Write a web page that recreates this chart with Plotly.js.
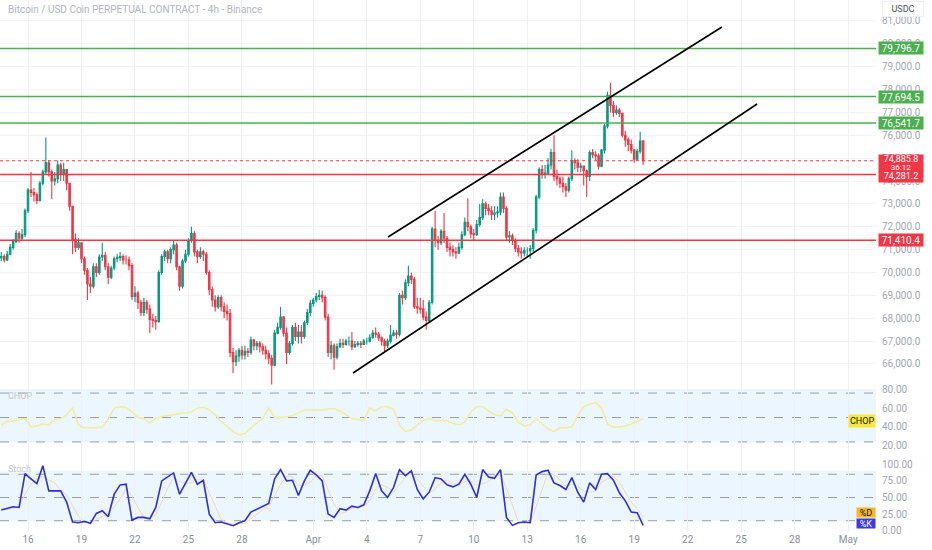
<!DOCTYPE html>
<html><head><meta charset="utf-8">
<script src="https://cdn.plot.ly/plotly-3.0.1.min.js"></script>
<style>html,body{margin:0;padding:0;background:#fff}#chart{width:932px;height:550px}</style>
</head><body><div id="chart"></div>
<script>
// ---- data (4h candles, first candle 2025-03-14 12:00 UTC) ----
const candleStartUTC = [2025, 2, 14, 12];
const firstOpen = 70650;
const closes = [
 70700,70550,70800,
 71100,71350,71700,71500,71650,72700,
 73600,73500,73400,73150,73900,74400,
 74800,74400,74000,74100,74700,74300,
 74500,73900,72900,71450,71100,71300,
 70600,70100,69500,69400,70250,70000,
 70680,70750,70250,69800,70200,70600,
 70650,70700,70550,70550,70300,68950,
 69100,68700,68250,68700,68400,67950,
 67900,67850,70000,70700,70900,70600,
 71000,71200,70250,69400,70500,70800,
 71400,71700,70900,70700,70900,70800,
 70000,69250,68800,68500,68900,68500,
 68300,68200,66500,66100,66350,66600,
 66400,66550,66500,67050,66800,66900,
 66750,66600,66450,66250,65950,67350,
 67600,68050,67350,66500,66900,67600,
 67200,67400,67200,67800,68250,68650,
 68800,68950,69000,68900,68050,66500,
 66800,66300,66750,66900,66850,67000,
 67000,66750,66850,66900,66850,67000,
 67000,67150,67350,67300,67150,67000,
 66800,67000,67250,67350,67300,69000,
 68900,69550,69850,69700,68500,68450,
 68400,68050,67900,68700,71900,71400,
 71300,71800,71500,71100,71000,70900,
 70850,71100,71650,72200,72000,71700,
 71650,72100,72400,73000,72800,72700,
 72550,72600,72650,73300,72800,71550,
 71600,71400,71050,70900,70850,70950,
 70950,71050,71850,73300,74500,74300,
 74350,74700,75250,74200,74100,73900,
 73750,73600,74100,74900,74800,74600,
 74650,74450,74200,75250,75150,75100,
 74650,75350,76400,77750,77300,77000,
 77100,76950,76000,75800,75600,75350,
 74950,75300,75750,74885.8
];
const highs = [
 70900,70800,70950,
 71250,71450,71850,71800,71900,72800,
 73700,74400,73700,73500,74000,74500,
 75900,74900,74500,74400,74900,74800,
 74800,74500,73900,72900,71700,71500,
 71300,70700,70200,69800,70400,70400,
 70800,71300,70900,70400,70300,70700,
 70800,70900,70800,70750,70700,70400,
 69400,69200,68800,68900,68800,68600,
 68200,68100,70100,70800,71000,71000,
 71100,71400,71300,70300,70600,71000,
 71500,72000,71800,71000,71100,71000,
 70900,70100,69400,69000,69000,69000,
 68700,68600,68400,66700,66600,66700,
 66800,66800,66700,67200,67100,67000,
 67000,66900,66800,66600,66400,67500,
 67800,68500,68100,67600,67000,67700,
 67800,67700,67700,67900,68400,68800,
 68900,69100,69250,69200,69000,68200,
 67000,66900,66900,67100,67100,67100,
 67200,67400,67000,67000,67000,67100,
 67150,67300,67500,67600,67400,67200,
 67100,67100,67700,67500,67500,69100,
 69200,69700,70300,70000,69800,68900,
 68900,68800,68300,68800,72000,72700,
 71600,71900,72600,71600,71300,71200,
 71100,71300,71800,72400,73250,72100,
 71900,72300,73000,73200,73100,73000,
 72900,72900,72900,73500,73500,72900,
 71800,71700,71500,71200,71100,71100,
 71100,71200,71950,73400,74600,74700,
 74700,75000,75400,76000,74500,74200,
 74200,73900,74200,75350,75000,74950,
 74800,74600,74500,75350,75400,75300,
 75200,75400,76500,77900,78300,77500,
 77300,77200,77000,76200,75900,75800,
 75400,75400,76150,75800
];
const lows = [
 70500,70450,70500,
 70750,71000,71300,71300,71400,71550,
 72600,73300,73100,73000,73100,73800,
 74300,74200,73200,73800,73900,74000,
 74000,73600,72700,70800,70900,71000,
 70400,69900,68800,69100,69300,69800,
 69900,70500,70100,69500,69700,70100,
 70450,70500,70350,70350,70100,68800,
 68700,68400,68100,68100,68200,67350,
 67600,67500,67800,69900,70500,70400,
 70400,70800,70100,69200,69300,70400,
 70700,71300,70700,70400,70600,70500,
 69900,69000,68500,68300,68400,68300,
 68000,67900,66300,65600,65900,66100,
 66200,66200,66300,66400,66600,66600,
 66500,66400,66200,66000,65100,65900,
 67300,67500,67200,66000,66400,66800,
 67000,66900,66900,67100,67700,68100,
 68500,68700,68800,68700,67900,66300,
 66200,65750,66200,66700,66700,66800,
 66800,66600,66700,66750,66700,66850,
 66850,66950,67100,67150,67000,66800,
 66550,66700,66900,67200,67100,67200,
 68600,68800,69400,69500,68400,68200,
 68200,67900,67500,67800,68600,71100,
 71000,71200,71300,70900,70700,70700,
 70600,70800,71000,71600,71800,71500,
 71400,71600,72000,72300,72500,72500,
 72300,72300,72400,72500,72600,71400,
 71300,71200,70900,70700,70600,70700,
 70700,70600,70900,71700,73200,74100,
 74100,74300,74500,74000,73800,73700,
 73500,73300,73500,74000,74500,74400,
 74400,73800,73300,74000,75000,74900,
 74500,74600,75200,76300,77000,76800,
 76900,76800,75900,75500,75300,75200,
 74800,74900,75200,74700
];
// indicators (8h samples from 2025-03-14 12:00)
const chopValues = [42,46,46,48,49,40,41,43,42,48, 49,53,60,42,39,39,39,40,48,60,
 61.5,61,56,50,49,44,49,51,52,53, 54,55,56,60,61,58,53,46,40,35,
 31.5,33,39,44,49,60,50,50,51,52, 55,58,58,58,58,59,59.5,57,53,49,
 48,47,60,57,61.5,61.5,59,42,35,37, 42,47,49,46.5,47,46.5,44,42,45,56,
 61.5,61.5,57,53,52,59,55,45,41,42, 49,43,38,35,39,39,40,52,61.5,64,
 66,60,43,40,40,41,43,46,49];
const stochK = [31,33,36,35,86,78,71,98,60,60, 60,43,13,12,14,11,26,30,21,55,
 69,70,16,20,20,18,35,75,81,87, 55,72,88,70,76,25,12,13,10,7.5,
 12,15,28,32,36,41,78,92,75,76, 53,75,91,84,75,25,20,33,31,37,
 35,39,60,86,60,50,65,92,83,90, 62,48,58,80,78,69,66,70,85,70,
 50,92,81,79,92,20,8,12,13,12, 84,89,91,72,68,62,80,58,43,72,
 62,85,86,76,57,45,28,27,8];
const stochD = [33,32,34,36,55,70,78,82,76,72, 60,54,38,22,13,12,17,22,26,35,
 48,64,52,35,19,19,24,43,64,81, 74,71,72,77,78,57,38,17,12,10,
 10,11,18,25,32,36,52,70,82,81, 68,68,73,83,83,61,40,26,28,34,
 34,37,45,62,69,65,58,69,80,88, 78,67,56,62,72,76,71,68,74,75,
 68,71,74,84,84,64,40,13,11,12, 36,62,88,84,77,67,70,67,60,58,
 59,73,78,82,73,59,43,33,21];
const xTickDates = ['2025-03-16','2025-03-19','2025-03-22','2025-03-25','2025-03-28','2025-04-01','2025-04-04','2025-04-07','2025-04-10','2025-04-13','2025-04-16','2025-04-19','2025-04-22','2025-04-25','2025-04-28','2025-05-01'];
const xTickText = ['16','19','22','25','28','Apr','4','7','10','13','16','19','22','25','28','May'];
const priceTicks = [66000,67000,68000,69000,70000,71000,72000,73000,74000,75000,76000,77000,78000,79000,80000,81000];
const greenLevels = [79796.7, 77694.5, 76541.7];
const redLevels = [74281.2, 71410.4];
const lastPrice = 74885.8;
const countdown = '36:12';
const upperChannelX = ['2025-04-05 04:36','2025-04-23 22:05'];
const upperChannelY = [71553, 80735];
const lowerChannelX = ['2025-04-03 05:31','2025-04-25 21:21'];
const lowerChannelY = [65606, 77368];
const chopBands = [24, 50, 76];
const stochBands = [15, 50, 85];
const titleText = 'Bitcoin / USD Coin PERPETUAL CONTRACT - 4h - Binance';

// ---- build ----
const H = 3600e3;
const base = Date.UTC(...candleStartUTC);
const fmt = ms => new Date(ms).toISOString().slice(0,16).replace('T',' ');
const times = closes.map((_, i) => fmt(base + i*4*H));
const opens = closes.map((_, i) => i === 0 ? firstOpen : closes[i-1]);
const hi = highs.map((h, i) => Math.max(h, opens[i], closes[i]));
const lo = lows.map((l, i) => Math.min(l, opens[i], closes[i]));
const t8 = chopValues.map((_, j) => fmt(base + j*8*H));

const GREEN = '#089981', RED = '#f23645', LVLG = '#4caf50';
const traces = [
  {type:'candlestick', x:times, open:opens, high:hi, low:lo, close:closes, xaxis:'x', yaxis:'y',
   increasing:{line:{color:GREEN,width:1.1}, fillcolor:GREEN},
   decreasing:{line:{color:RED,width:1.1}, fillcolor:RED},
   whiskerwidth:0, hoverinfo:'skip'},
  {type:'scatter', mode:'lines', x:t8, y:chopValues, xaxis:'x', yaxis:'y2', line:{color:'#f2ec9c', width:1.5}, hoverinfo:'skip'},
  {type:'scatter', mode:'lines', x:t8, y:stochD, xaxis:'x', yaxis:'y3', line:{color:'#eedcae', width:1}, hoverinfo:'skip'},
  {type:'scatter', mode:'lines', x:t8, y:stochK, xaxis:'x', yaxis:'y3', line:{color:'#2f2fd8', width:1.6}, hoverinfo:'skip'}
];

const shapes = [];
shapes.push({type:'rect', xref:'paper', x0:0, x1:1, yref:'y2', y0:chopBands[0], y1:80, fillcolor:'rgba(33,150,243,0.09)', line:{width:0}, layer:'below'});
shapes.push({type:'rect', xref:'paper', x0:0, x1:1, yref:'y3', y0:stochBands[0], y1:90, fillcolor:'rgba(33,150,243,0.09)', line:{width:0}, layer:'below'});
chopBands.forEach(v => shapes.push({type:'line', xref:'paper', x0:0, x1:1, yref:'y2', y0:v, y1:v, line:{color:'#9a9ca3', width:1, dash:'dash'}, layer:'below'}));
stochBands.forEach(v => shapes.push({type:'line', xref:'paper', x0:0, x1:1, yref:'y3', y0:v, y1:v, line:{color:'#9a9ca3', width:1, dash:'dash'}, layer:'below'}));
greenLevels.forEach(v => shapes.push({type:'line', xref:'paper', x0:0, x1:1, yref:'y', y0:v, y1:v, line:{color:LVLG, width:1.5}}));
redLevels.forEach(v => shapes.push({type:'line', xref:'paper', x0:0, x1:1, yref:'y', y0:v, y1:v, line:{color:RED, width:1.5}}));
shapes.push({type:'line', xref:'paper', x0:0, x1:1, yref:'y', y0:lastPrice, y1:lastPrice, line:{color:RED, width:1, dash:'dot'}});
shapes.push({type:'line', xref:'x', yref:'y', x0:upperChannelX[0], x1:upperChannelX[1], y0:upperChannelY[0], y1:upperChannelY[1], line:{color:'#000', width:1.6}});
shapes.push({type:'line', xref:'x', yref:'y', x0:lowerChannelX[0], x1:lowerChannelX[1], y0:lowerChannelY[0], y1:lowerChannelY[1], line:{color:'#000', width:1.6}});

const fmtP = v => v.toLocaleString('en-US',{minimumFractionDigits:1});
const lab = (text, y, bg, extra) => Object.assign({xref:'paper', x:1, xanchor:'left', xshift:2, yref:'y', y:y, yanchor:'middle',
  text:text, showarrow:false, bgcolor:bg, font:{color:'#fff', size:10}, width:44, height:12, borderpad:0}, extra||{});
const annotations = [];
annotations.push({xref:'paper', x:0, xanchor:'left', xshift:6, yref:'paper', y:1, yanchor:'top', yshift:-2, text:titleText, showarrow:false, font:{size:10, color:'#b2b5be'}});
annotations.push({xref:'paper', x:1, xanchor:'left', xshift:6, yref:'paper', y:1, yanchor:'top', yshift:-1, text:'USDC', showarrow:false, font:{size:9, color:'#50535e'}, bgcolor:'#fff', bordercolor:'#eef0f4', borderwidth:1, width:38, height:12});
greenLevels.forEach(v => annotations.push(lab(fmtP(v), v, LVLG)));
annotations.push(lab('', lastPrice, RED, {height:27, yanchor:'top', yshift:7}));
annotations.push(lab(fmtP(lastPrice), lastPrice, 'rgba(0,0,0,0)', {height:8, yshift:2, font:{color:'#fff', size:9}}));
annotations.push(lab(countdown, lastPrice, 'rgba(0,0,0,0)', {height:7, yshift:-7, font:{color:'#fff', size:8}}));
annotations.push(lab(fmtP(redLevels[0]), redLevels[0], 'rgba(0,0,0,0)', {height:8, yshift:-1, font:{color:'#fff', size:9}}));
annotations.push(lab(fmtP(redLevels[1]), redLevels[1], RED));
annotations.push({xref:'paper', x:0, xanchor:'left', xshift:6, yref:'y2 domain', y:1, yanchor:'top', yshift:-1, text:'CHOP', showarrow:false, font:{size:9, color:'#c4c6cc'}});
annotations.push({xref:'paper', x:0, xanchor:'left', xshift:6, yref:'y3 domain', y:1, yanchor:'top', yshift:0, text:'Stoch', showarrow:false, font:{size:9, color:'#c4c6cc'}});
annotations.push({xref:'paper', x:1, xanchor:'right', yref:'y2', y:chopValues[chopValues.length-1], yshift:-3, text:'CHOP', showarrow:false, bgcolor:'#f9e83c', font:{size:9, color:'#131722'}, borderpad:1});
annotations.push({xref:'paper', x:1, xanchor:'right', yref:'y3', y:stochD[stochD.length-1], yshift:4, text:'%D', showarrow:false, bgcolor:'#f7b52c', font:{size:9, color:'#131722'}, borderpad:0, width:18, height:9});
annotations.push({xref:'paper', x:1, xanchor:'right', yref:'y3', y:stochK[stochK.length-1], yshift:2, text:'%K', showarrow:false, bgcolor:'#3a3ae0', font:{size:9, color:'#fff'}, borderpad:0, width:18, height:9});

const yTickFont = {size:10, color:'#a3a6af'};
const layout = {
  width:932, height:550, margin:{l:0, r:56, t:0, b:18},
  paper_bgcolor:'#fff', plot_bgcolor:'#fff', showlegend:false,
  font:{family:'Roboto, "Open Sans", sans-serif', size:10, color:'#787b86'},
  xaxis:{type:'date', anchor:'y3', range:['2025-03-14 10:19','2025-05-02 13:26'], tickmode:'array', tickvals:xTickDates, ticktext:xTickText,
         showgrid:true, gridcolor:'#eef0f4', gridwidth:1, zeroline:false, showline:false, ticks:'', tickfont:{size:10, color:'#8a8d96'}, rangeslider:{visible:false}},
  yaxis:{domain:[0.2707,1], range:[64950,81916], side:'right', anchor:'x', tickmode:'array', tickvals:priceTicks, tickformat:',.1f',
         showgrid:true, gridcolor:'#f3f4f7', zeroline:false, ticks:'', ticklabelstandoff:5, tickfont:yTickFont},
  yaxis2:{domain:[0.1316,0.2707], range:[2.7,81.4], side:'right', anchor:'x', tickmode:'array', tickvals:[20,40,60,80], tickformat:'.2f',
         showgrid:false, zeroline:false, ticks:'', ticklabelstandoff:5, tickfont:yTickFont},
  yaxis3:{domain:[0,0.1316], range:[-2,103.5], side:'right', anchor:'x', tickmode:'array', tickvals:[0,25,50,75,100], tickformat:'.2f',
         showgrid:false, zeroline:false, ticks:'', ticklabelstandoff:5, tickfont:yTickFont},
  shapes:shapes, annotations:annotations
};
Plotly.newPlot('chart', traces, layout, {staticPlot:true, displayModeBar:false});
</script></body></html>
